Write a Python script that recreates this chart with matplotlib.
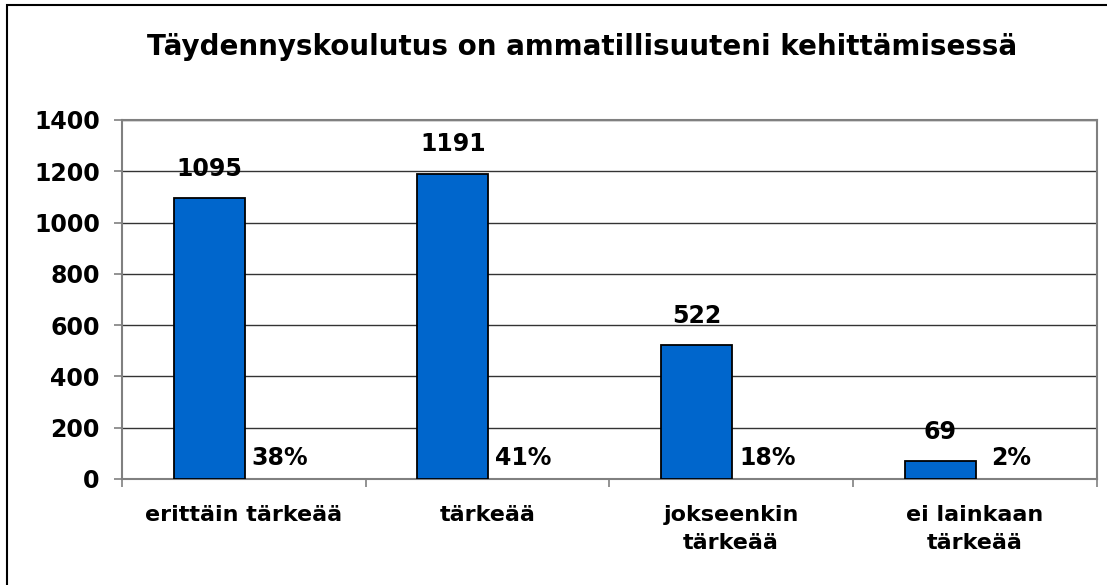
import numpy as np
import matplotlib.pyplot as plt
from matplotlib.patches import Rectangle

# Data
categories = ['erittäin tärkeää', 'tärkeää', 'jokseenkin\ntärkeää', 'ei lainkaan\ntärkeää']
counts = [1095, 1191, 522, 69]
percents = ['38%', '41%', '18%', '2%']
yticks = [0, 200, 400, 600, 800, 1000, 1200, 1400]

plt.rcParams['font.family'] = ['DejaVu Sans']
plt.rcParams['font.weight'] = 'bold'

fig = plt.figure(figsize=(11.07, 5.85), dpi=100)
ax = fig.add_axes([0.1102, 0.1812, 0.8805, 0.6137])

x = np.arange(len(categories))
ax.bar(x - 0.142, counts, width=0.291, color='#0066CC', edgecolor='black',
       linewidth=1.3, zorder=3)

# value labels above bars
for xi, v in zip(x, counts):
    ax.annotate(str(v), (xi - 0.142, v), xytext=(0, 16), textcoords='offset points',
                ha='center', va='baseline', fontsize=17, fontweight='bold')

# percent labels at right of bars
for xi, p in zip(x, percents):
    ax.annotate(p, (xi + 0.148, 0), xytext=(0, 10), textcoords='offset points',
                ha='center', va='baseline', fontsize=17, fontweight='bold')

ax.set_xlim(-0.5, 3.5)
ax.set_ylim(0, 1400)
ax.set_yticks(yticks)
ax.set_yticklabels([str(t) for t in yticks], fontsize=17, fontweight='bold')
ax.yaxis.grid(True, color='#333333', linewidth=1.0, zorder=0)
ax.set_axisbelow(True)

# category ticks on boundaries, labels centered
ax.set_xticks(np.arange(-0.5, 4, 1.0))
ax.set_xticklabels([])
ax.set_xticks(x, minor=True)
ax.set_xticklabels(categories, minor=True, fontsize=16, fontweight='bold',
                   linespacing=1.45, va='top')
ax.tick_params(axis='x', which='major', direction='out', length=6, color='#808080', width=1.2)
ax.tick_params(axis='x', which='minor', length=0, pad=19)
ax.tick_params(axis='y', direction='out', length=6, color='#808080', width=1.2, pad=10)

for s in ['left', 'bottom', 'top', 'right']:
    ax.spines[s].set_color('#808080')
    ax.spines[s].set_linewidth(1.5)

fig.text(0.526, 1 - 47 / 585, 'Täydennyskoulutus on ammatillisuuteni kehittämisessä',
         ha='center', va='center', fontsize=20, fontweight='bold')

# chart area border (only top and left visible)
fig.patches.append(Rectangle((7 / 1107, -0.1), 1.2, 1.1 - 5 / 585, transform=fig.transFigure,
                             fill=False, edgecolor='black', linewidth=1.5))

fig.savefig('out.png', dpi=100)
